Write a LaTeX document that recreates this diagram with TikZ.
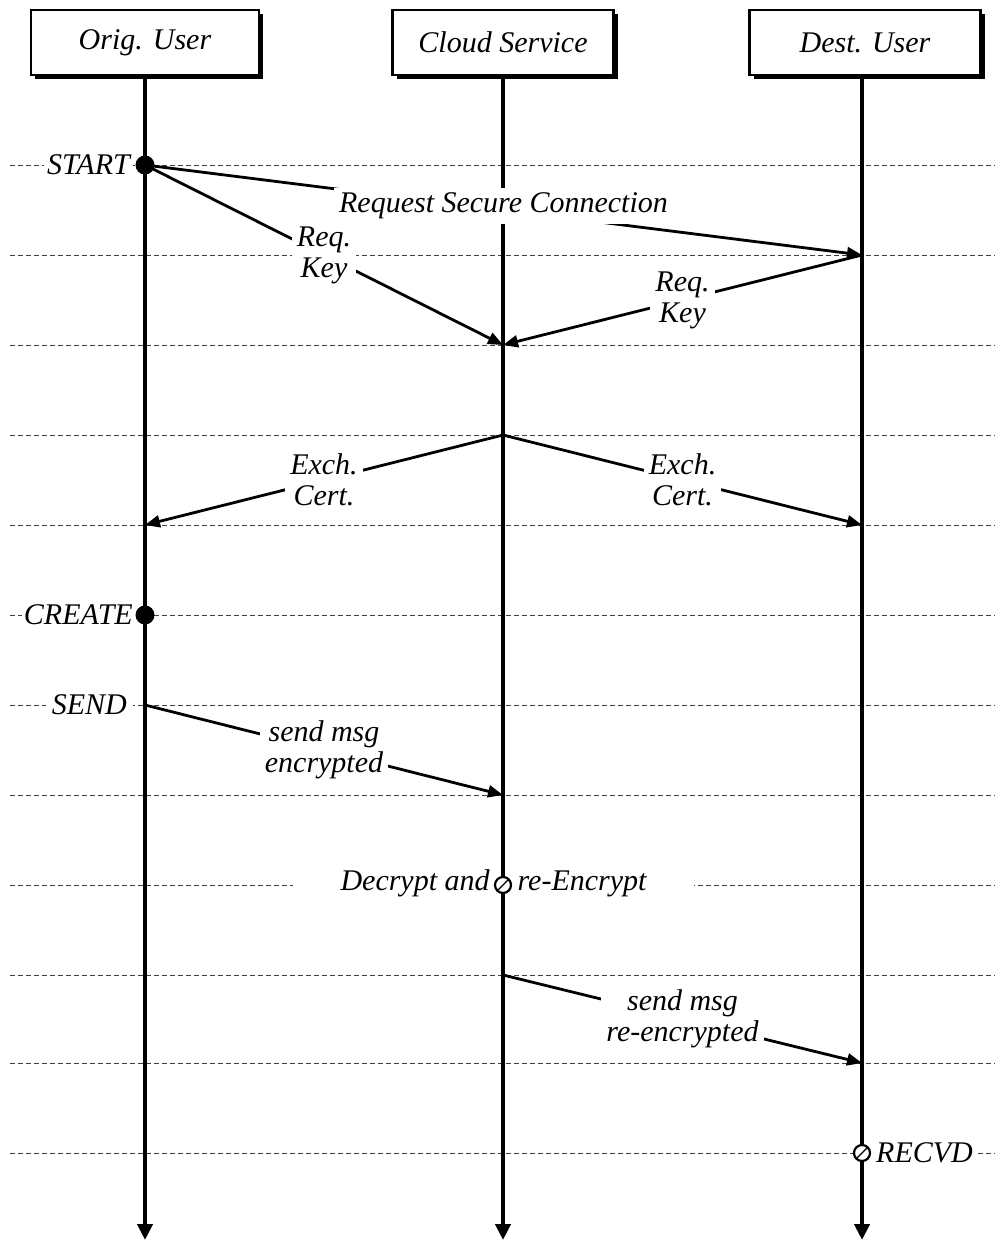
\documentclass[tikz,border=0pt]{standalone}
\usepackage{fontspec}
\setmainfont{Liberation Serif}
\usetikzlibrary{arrows.meta,shadows}
\begin{document}
\begin{tikzpicture}[x=1pt,y=-1pt,
  font=\itshape\fontsize{30}{31}\selectfont,
  actor/.style={draw,line width=2.5pt,fill=white,minimum height=65pt,inner sep=0pt,
    drop shadow={shadow xshift=4pt,shadow yshift=-4pt,fill=black,opacity=1}},
  lifeline/.style={line width=4.5pt,-{Triangle[length=16pt,width=15pt]}},
  msg/.style={line width=2.8pt,-{Triangle[length=15pt,width=12pt]}},
  note/.style={fill=white,inner sep=5pt,align=center},
  rowlab/.style={fill=white,inner ysep=2pt},
  guide/.style={line width=0.9pt,black!75,dash pattern=on 5pt off 3pt},
  ring/.style={circle,draw,line width=2.2pt,fill=white,minimum size=16pt,inner sep=0pt},
  dot/.style={circle,fill=black,minimum size=19pt,inner sep=0pt}]

\useasboundingbox (0,0) rectangle (995,1241);
\fill[white] (0,0) rectangle (995,1241);

% event rows
\foreach \y in {165,255,345,435,525,615,705,795,885,975,1063,1153}
  \draw[guide] (10,\y) -- (995,\y);

% points on the lifelines
\coordinate (o1) at (145,165);
\coordinate (d2) at (862,255);
\coordinate (c3) at (503,345);
\coordinate (c4) at (503,435);
\coordinate (o5) at (145,525);
\coordinate (d5) at (862,525);
\coordinate (o6) at (145,615);
\coordinate (o7) at (145,705);
\coordinate (c8) at (503,795);
\coordinate (c9) at (503,885);
\coordinate (c10) at (503,975);
\coordinate (d11) at (862,1063);
\coordinate (d12) at (862,1153);
\coordinate (oE) at (145,1240);
\coordinate (cE) at (503,1240);
\coordinate (dE) at (862,1240);

% event labels
\node[rowlab,anchor=east,inner xsep=3pt] (lstart) at (133,165) {START};
\node[rowlab,anchor=east,inner xsep=2pt] (lcreate) at (135,615) {CREATE};
\node[rowlab,anchor=east,inner xsep=6pt] (lsend) at (133,705) {SEND};
\node[rowlab,anchor=west,inner xsep=4pt] (lrecvd) at (872,1153) {RECVD};
\node[fill=white,inner xsep=48pt,inner ysep=3pt] (ldec) at (493.5,883)
  {Decrypt and\hspace{28pt}re-Encrypt};

% participants and lifelines
\node[actor,minimum width=228pt] (orig) at (145,42.5) {Orig. User};
\node[actor,minimum width=221pt] (cloud) at (503,42.5) {Cloud Service};
\node[actor,minimum width=231pt] (dest) at (865,42.5) {Dest. User};
\draw[lifeline] (orig.south -| oE) -- (oE);
\draw[lifeline] (cloud.south -| cE) -- (cE);
\draw[lifeline] (dest.south -| dE) -- (dE);

% messages
\draw[msg] (o1) -- node[note,yshift=4pt] (mreq) {Request Secure Connection} (d2);
\draw[msg] (o1) -- node[note] (mk1) {Req.\\Key} (c3);
\draw[msg] (d2) -- node[note] (mk2) {Req.\\Key} (c3);
\draw[msg] (c4) -- node[note] (mx1) {Exch.\\Cert.} (o5);
\draw[msg] (c4) -- node[note] (mx2) {Exch.\\Cert.} (d5);
\draw[msg] (o7) -- node[note] (ms1) {send msg\\encrypted} (c8);
\draw[msg] (c10) -- node[note] (ms2) {send msg\\re-encrypted} (d11);

% event markers
\node[dot] (pstart) at (o1) {};
\node[dot] (pcreate) at (o6) {};
\node[ring] (pdec) at (c9) {};
\draw[line width=1.3pt,shorten <=2pt,shorten >=2pt] (pdec.south west) -- (pdec.north east);
\node[ring] (precv) at (d12) {};
\draw[line width=1.3pt,shorten <=2pt,shorten >=2pt] (precv.south west) -- (precv.north east);
\end{tikzpicture}
\end{document}
